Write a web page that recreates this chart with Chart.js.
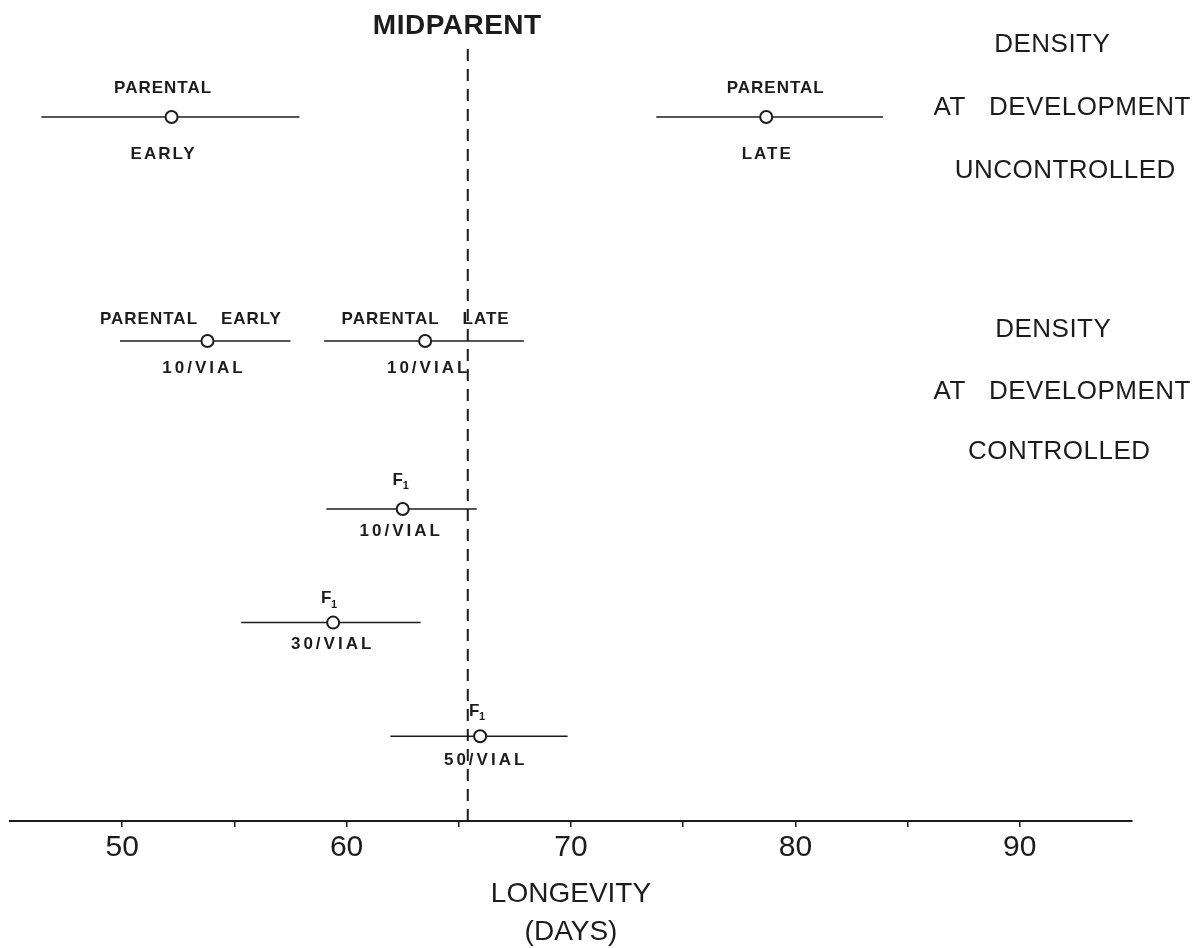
<!DOCTYPE html>
<html lang="en">
<head>
    <meta charset="UTF-8">
    <title>Longevity and Midparent</title>
    <script src="https://cdn.jsdelivr.net/npm/chart.js"></script>
    <style>
        body { margin: 0; background: #fff; }
        canvas { display: block; }
    </style>
</head>
<body>
    <canvas id="chart" width="1199" height="948"></canvas>

    <script>
        // data (days)
        const groups = ['Parental early (uncontrolled)', 'Parental late (uncontrolled)', 'Parental early 10/vial',
                        'Parental late 10/vial', 'F1 10/vial', 'F1 30/vial', 'F1 50/vial'];
        const means = [52.2, 78.7, 53.8, 63.5, 62.5, 59.4, 65.95];
        const lower = [46.4, 73.8, 49.9, 59.0, 59.1, 55.3, 61.95];
        const upper = [57.9, 83.9, 57.5, 67.9, 65.8, 63.3, 69.85];
        const rows = [8.8, 8.8, 6.0, 6.0, 3.9, 2.48, 1.06];
        const topLabels = ['PARENTAL', 'PARENTAL', 'PARENTAL    EARLY', 'PARENTAL    LATE', 'F1', 'F1', 'F1'];
        const bottomLabels = ['EARLY', 'LATE', '10/VIAL', '10/VIAL', '10/VIAL', '30/VIAL', '50/VIAL'];
        const midparent = 65.4;
        const tickValues = [50, 60, 70, 80, 90];

        const ink = '#1c1c1c';
        const FONT = "'Liberation Sans', Arial, sans-serif";

        // label placement around each point (px): [dx, gap] above and below
        const labelTop = [[-9, 29], [9, 29], [-17, 22], [0, 22], [-2, 29], [-4, 24], [-3, 25]];
        const labelBottom = [[-9, 37], [0, 37], [-5, 27], [2, 27], [-3, 22], [-2, 22], [4, 24]];

        const datasets = [];
        groups.forEach((g, i) => {
            datasets.push({
                type: 'line',
                label: g + ' range',
                data: [{ x: lower[i], y: rows[i] }, { x: upper[i], y: rows[i] }],
                borderColor: ink,
                borderWidth: 1.5,
                pointRadius: 0,
                order: 2
            });
        });
        datasets.push({
            type: 'line',
            label: 'Midparent',
            data: [{ x: midparent, y: 0 }, { x: midparent, y: 9.74 }],
            borderColor: ink,
            borderWidth: 2,
            borderDash: [12, 8],
            pointRadius: 0,
            order: 3
        });
        datasets.push({
            type: 'scatter',
            label: 'Mean',
            data: means.map((m, i) => ({ x: m, y: rows[i] })),
            pointRadius: 6,
            pointBackgroundColor: '#fff',
            pointBorderColor: ink,
            pointBorderWidth: 2,
            order: 0
        });

        function spaced(ctx, text, x, y, spacing) {
            ctx.letterSpacing = spacing + 'px';
            // letterSpacing adds trailing space, shift to keep it centered
            ctx.fillText(text, x + spacing / 2, y);
            ctx.letterSpacing = '0px';
        }

        const textPlugin = {
            id: 'texts',
            afterDatasetsDraw(chart) {
                const { ctx, scales: { x, y } } = chart;
                ctx.save();
                ctx.fillStyle = ink;
                ctx.textAlign = 'center';
                ctx.textBaseline = 'middle';

                means.forEach((m, i) => {
                    const px = x.getPixelForValue(m);
                    const py = y.getPixelForValue(rows[i]);
                    const [tdx, tgap] = labelTop[i];
                    const [bdx, bgap] = labelBottom[i];
                    ctx.font = 'bold 17px ' + FONT;
                    if (topLabels[i] === 'F1') {
                        ctx.fillText('F', px + tdx - 3, py - tgap);
                        ctx.font = 'bold 11px ' + FONT;
                        ctx.fillText('1', px + tdx + 5, py - tgap + 6);
                    } else {
                        spaced(ctx, topLabels[i], px + tdx, py - tgap, 1);
                    }
                    ctx.font = 'bold 17px ' + FONT;
                    spaced(ctx, bottomLabels[i], px + bdx, py + bgap, i < 2 ? 2 : 3);
                });

                // midparent label
                ctx.font = 'bold 28px ' + FONT;
                spaced(ctx, 'MIDPARENT', 457, 26, 0.5);

                // side notes
                ctx.font = '26px ' + FONT;
                const side = [
                    ['DENSITY', 1052, 45], ['AT   DEVELOPMENT', 1062, 108], ['UNCONTROLLED', 1065, 171],
                    ['DENSITY', 1053, 330], ['AT   DEVELOPMENT', 1062, 392], ['CONTROLLED', 1059, 452]
                ];
                side.forEach(([t, tx, ty]) => spaced(ctx, t, tx, ty, 0.5));
                ctx.restore();
            }
        };

        new Chart(document.getElementById('chart'), {
            type: 'scatter',
            data: { datasets },
            options: {
                responsive: false,
                animation: false,
                layout: { padding: { top: 21, left: 10, right: 67, bottom: 0 } },
                plugins: { legend: { display: false }, tooltip: { enabled: false } },
                scales: {
                    x: {
                        type: 'linear',
                        min: 45,
                        max: 95,
                        afterFit: (s) => { s.height = 127; },
                        afterBuildTicks: (s) => {
                            s.ticks = [45, 55, 65, 75, 85, 95].concat(tickValues)
                                .sort((a, b) => a - b).map(v => ({ value: v }));
                        },
                        border: { display: true, color: ink, width: 2 },
                        grid: {
                            drawOnChartArea: false,
                            drawTicks: true,
                            tickLength: 6,
                            lineWidth: 1.5,
                            color: (c) => (c.tick && (c.tick.value === 45 || c.tick.value === 95)) ? 'rgba(0,0,0,0)' : ink
                        },
                        ticks: {
                            autoSkip: false,
                            maxRotation: 0,
                            padding: 3,
                            color: ink,
                            font: { family: FONT, size: 30 },
                            callback: (v) => tickValues.includes(v) ? String(v) : ''
                        },
                        title: {
                            display: true,
                            text: ['LONGEVITY', '(DAYS)'],
                            color: ink,
                            font: { family: FONT, size: 28, lineHeight: '38px' },
                            padding: { top: 0, bottom: -3 }
                        }
                    },
                    y: {
                        type: 'linear',
                        display: false,
                        min: 0,
                        max: 10
                    }
                }
            },
            plugins: [textPlugin]
        });
    </script>
</body>
</html>
